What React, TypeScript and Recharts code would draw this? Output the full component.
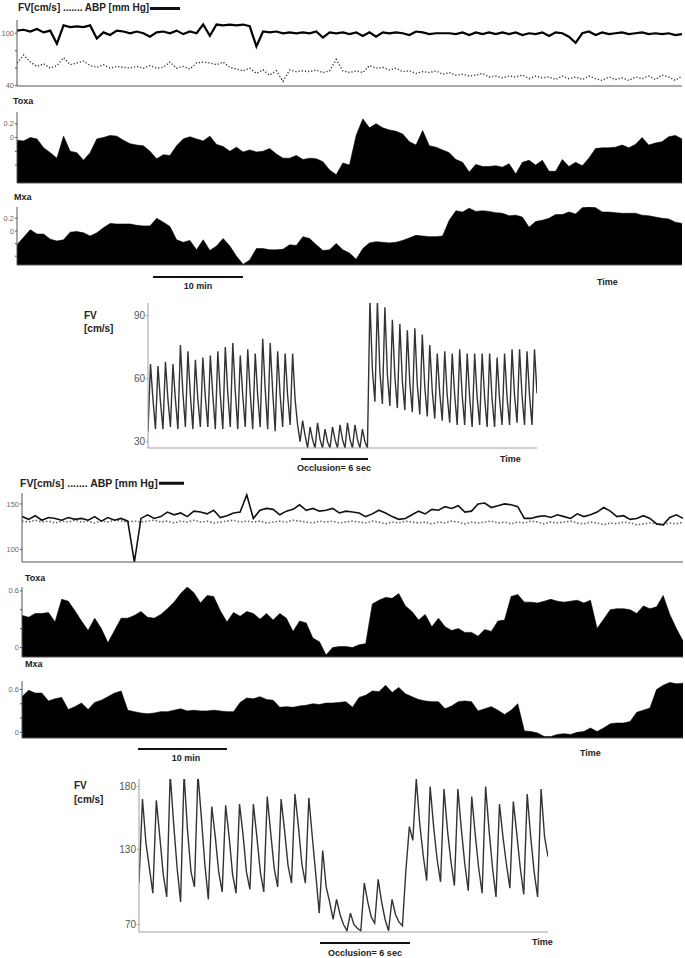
import React from 'react';
import { ComposedChart, Line, Area, XAxis, YAxis } from 'recharts';

// ---------------- Group 1 (upper) ----------------
const abp1 = [
  103, 104, 102, 105, 101, 103, 88, 109, 107, 108,
  107, 109, 94, 101, 98, 103, 102, 100, 102, 100,
  96, 101, 102, 100, 103, 99, 102, 100, 110, 97,
  110, 109, 110, 109, 110, 108, 85, 102, 101, 102,
  100, 101, 100, 101, 100, 102, 95, 101, 100, 101,
  99, 101, 97, 101, 96, 101, 100, 101, 100, 98,
  102, 101, 99, 100, 100, 100, 99, 101, 98, 101,
  99, 101, 99, 101, 99, 101, 98, 100, 99, 101,
  97, 101, 100, 96, 89, 100, 102, 98, 101, 99,
  100, 101, 99, 100, 101, 99, 100, 99, 100, 98,
  99,
];
const fvTrend1 = [
  66, 75, 67, 62, 65, 60, 63, 72, 64, 66,
  68, 63, 61, 64, 60, 62, 61, 60, 62, 60,
  63, 60, 61, 67, 60, 62, 59, 66, 67, 66,
  64, 67, 61, 59, 57, 60, 54, 58, 52, 57,
  45, 58, 56, 57, 56, 58, 55, 57, 70, 57,
  55, 57, 55, 63, 60, 61, 58, 60, 56, 57,
  54, 56, 55, 57, 53, 55, 52, 53, 51, 52,
  54, 50, 51, 49, 51, 50, 52, 48, 51, 49,
  50, 47, 51, 48, 50, 47, 51, 48, 46, 50,
  47, 49, 46, 50, 48, 51, 47, 52, 50, 46,
  51,
];
const toxa1 = [
  -0.04, -0.05, 0.0, -0.02, -0.15, -0.22, -0.3, 0.02, -0.2, -0.22,
  -0.33, -0.22, -0.02, 0.0, 0.03, 0.02, -0.04, -0.09, -0.11, -0.12,
  -0.2, -0.31, -0.25, -0.26, -0.12, -0.02, 0.01, -0.02, -0.05, 0.02,
  -0.1, -0.13, -0.2, -0.14, -0.21, -0.18, -0.21, -0.2, -0.16, -0.24,
  -0.3, -0.3, -0.26, -0.32, -0.3, -0.31, -0.35, -0.47, -0.54, -0.37,
  -0.4, 0.03, 0.27, 0.14, 0.2, 0.14, 0.11, 0.09, 0.05, -0.06,
  -0.11, 0.1, -0.12, -0.14, -0.18, -0.22, -0.32, -0.36, -0.5, -0.39,
  -0.42, -0.42, -0.41, -0.43, -0.38, -0.53, -0.36, -0.33, -0.4, -0.33,
  -0.49, -0.49, -0.32, -0.42, -0.36, -0.41, -0.3, -0.16, -0.15, -0.15,
  -0.14, -0.11, -0.15, -0.1, 0.0, -0.11, -0.08, -0.06, 0.01, 0.03,
  -0.02,
];
const mxa1 = [
  -0.22, -0.1, 0.02, -0.05, -0.05, -0.13, -0.16, -0.14, -0.02, -0.01,
  -0.03, -0.08, -0.03, 0.05, 0.12, 0.11, 0.11, 0.11, 0.09, 0.08,
  0.08, 0.2, 0.14, 0.07, -0.14, -0.18, -0.15, -0.3, -0.14, -0.31,
  -0.24, -0.12, -0.24, -0.4, -0.53, -0.46, -0.28, -0.28, -0.3, -0.3,
  -0.29, -0.22, -0.23, -0.09, -0.12, -0.22, -0.31, -0.3, -0.2, -0.3,
  -0.35, -0.45, -0.28, -0.19, -0.17, -0.18, -0.19, -0.18, -0.15, -0.11,
  -0.07, -0.08, -0.09, -0.09, -0.08, 0.17, 0.32, 0.3, 0.36, 0.31,
  0.32, 0.31, 0.29, 0.28, 0.24, 0.25, 0.22, 0.06, 0.15, 0.17,
  0.2, 0.26, 0.26, 0.3, 0.27, 0.37, 0.38, 0.37, 0.3, 0.3,
  0.29, 0.28, 0.28, 0.28, 0.25, 0.24, 0.22, 0.2, 0.19, 0.14,
  0.12,
];
const mxa1Ticks = [5.4, 19.9, 34.2, 48.6, 63.2, 77.4, 91.9];

// FV waveform around a 6 s occlusion (upper example), cm/s
const fvWave1 = [
  35, 67, 50, 36, 66, 49, 36, 68, 50, 37, 67, 50, 36, 76, 53,
  37, 73, 52, 36, 69, 50, 37, 70, 51, 37, 71, 52, 36, 73, 52,
  36, 75, 53, 37, 77, 54, 36, 71, 52, 37, 74, 53, 36, 72, 52,
  37, 79, 55, 36, 77, 54, 35, 73, 52, 37, 72, 52, 38, 72, 50,
  38,
  30, 40, 33, 27, 37, 31, 27, 39, 31, 27, 36, 30, 27, 37, 31,
  27, 38, 31, 27, 39, 31, 27, 38, 31, 27, 36, 30,
  27,
  97, 64, 49, 97, 63, 48, 94, 62, 47, 88, 61, 46, 86, 59, 45,
  83, 58, 44, 84, 57, 43, 81, 56, 42, 76, 54, 41, 72, 53, 40,
  73, 52, 39, 72, 52, 38, 74, 52, 38, 72, 51, 37, 72, 51, 38,
  72, 51, 37, 72, 50, 37, 70, 50, 38, 72, 51, 38, 74, 52, 39,
  74, 52, 38, 73, 52, 38, 74, 53,
];
const fvWave1Ticks = [8.4, 26.8, 44.9, 63.3, 81.4, 99.5, 117.9, 135.9, 154];

// ---------------- Group 2 (lower) ----------------
const abp2 = [
  136, 133, 137, 132, 135, 134, 132, 135, 133, 134,
  132, 136, 131, 135, 132, 134, 131, 86, 134, 138,
  134, 136, 141, 138, 140, 136, 142, 141, 139, 143,
  135, 137, 140, 141, 160, 134, 143, 145, 144, 138,
  142, 144, 149, 143, 145, 142, 143, 145, 140, 142,
  141, 140, 136, 139, 143, 140, 136, 133, 134, 138,
  142, 139, 144, 143, 147, 145, 148, 141, 142, 150,
  151, 146, 148, 150, 149, 147, 134, 134, 136, 137,
  135, 138, 136, 134, 139, 136, 138, 141, 146, 142,
  136, 137, 133, 134, 137, 134, 128, 127, 135, 138,
  134,
];
const fvTrend2 = [
  131, 130, 132, 130, 131, 129, 131, 130, 132, 130,
  131, 129, 131, 130, 132, 131, 130, 131, 130, 131,
  132, 130, 131, 129, 131, 130, 132, 130, 131, 129,
  130, 131, 132, 130, 131, 130, 131, 129, 130, 131,
  130, 132, 131, 130, 129, 131, 130, 131, 129, 130,
  131, 130, 129, 131, 130, 128, 130, 129, 131, 130,
  129, 130, 128, 130, 129, 131, 130, 128, 130, 129,
  130, 131, 129, 130, 128, 130, 129, 131, 130, 128,
  130, 129, 130, 131, 129, 128, 130, 129, 127, 129,
  128, 130, 129, 127, 128, 129, 128, 127, 129, 128,
  130,
];
const toxa2 = [
  0.34, 0.32, 0.36, 0.36, 0.37, 0.27, 0.51, 0.49, 0.39, 0.28,
  0.18, 0.31, 0.2, 0.05, 0.18, 0.31, 0.31, 0.34, 0.38, 0.32,
  0.31, 0.35, 0.41, 0.48, 0.57, 0.64, 0.58, 0.47, 0.55, 0.54,
  0.39, 0.27, 0.37, 0.33, 0.38, 0.36, 0.3, 0.36, 0.29, 0.36,
  0.31, 0.17, 0.28, 0.26, 0.1, 0.06, -0.08, 0.0, 0.01, 0.01,
  0.0, 0.03, 0.04, 0.46, 0.5, 0.53, 0.52, 0.57, 0.44, 0.38,
  0.29, 0.35, 0.22, 0.31, 0.22, 0.18, 0.2, 0.16, 0.16, 0.12,
  0.19, 0.17, 0.28, 0.29, 0.54, 0.56, 0.48, 0.48, 0.47, 0.49,
  0.51, 0.49, 0.48, 0.49, 0.5, 0.47, 0.5, 0.2, 0.3, 0.4,
  0.41, 0.41, 0.4, 0.36, 0.44, 0.41, 0.43, 0.55, 0.35, 0.2,
  0.07,
];
const mxa2 = [
  0.5, 0.59, 0.55, 0.55, 0.44, 0.47, 0.49, 0.32, 0.36, 0.41,
  0.32, 0.42, 0.45, 0.5, 0.55, 0.58, 0.31, 0.29, 0.27, 0.26,
  0.27, 0.29, 0.29, 0.31, 0.33, 0.3, 0.31, 0.3, 0.3, 0.31,
  0.3, 0.29, 0.29, 0.42, 0.48, 0.47, 0.5, 0.46, 0.45, 0.35,
  0.36, 0.35, 0.37, 0.38, 0.4, 0.39, 0.41, 0.41, 0.42, 0.43,
  0.35, 0.49, 0.52, 0.58, 0.57, 0.66, 0.56, 0.63, 0.54, 0.5,
  0.46, 0.44, 0.43, 0.43, 0.33, 0.37, 0.43, 0.44, 0.43, 0.3,
  0.33, 0.36, 0.31, 0.25, 0.31, 0.4, 0.02, 0.01, -0.01, -0.06,
  -0.06, -0.03, -0.02, -0.03, 0.0, 0.01, 0.06, 0.01, 0.06, 0.12,
  0.13, 0.13, 0.15, 0.28, 0.31, 0.34, 0.6, 0.66, 0.7, 0.68,
  0.69,
];
const mxa2Ticks = [3.7, 17.3, 30.7, 44.4, 58.1, 71.6, 85.3, 98.5];

// FV waveform around a 6 s occlusion (lower example), cm/s
const fvWave2 = [
  103, 170, 135, 115, 95, 169, 140, 110, 92, 190, 150, 115,
  88, 190, 145, 112, 100, 190, 155, 118, 90, 164, 140, 112,
  96, 165, 140, 110, 95, 166, 142, 112, 98, 166, 140, 112,
  96, 172, 143, 115, 100, 170, 145, 117, 103, 174, 148, 118,
  103, 171, 140, 110,
  79, 129, 100, 88, 74, 90, 78, 70, 65, 79, 70, 67,
  65, 103, 88, 76, 71, 106, 88, 74, 65, 90, 78, 72,
  69, 113, 148, 137,
  186, 150, 125, 105, 180, 148, 122, 104, 178, 145, 120, 101,
  178, 146, 118, 97, 172, 142, 115, 95, 180, 145, 115, 92,
  166, 140, 118, 99, 168, 142, 115, 94, 174, 140, 112, 92,
  178, 140, 124,
];
const fvWave2Ticks = [3.8, 19.4, 35, 50.6, 66.2, 81.9, 97.7, 113.6];

// ---------------- helpers ----------------
const FONT = '"Liberation Sans", Arial, Helvetica, sans-serif';

const rows = (a: number[], b?: number[]) =>
  a.map((v, i) => ({ i, a: v, b: b ? b[i] : undefined }));

type PanelProps = {
  left: number;
  top: number;
  w: number;
  h: number;
  axisW: number;
  data: any[];
  xMax: number;
  yDomain: [number, number];
  yTicks: number[];
  yShow: number[];
  xTicks?: number[];
  frame: string;
  tickFont?: number;
  tickColor?: string;
  children: React.ReactNode;
};

function Panel(p: PanelProps) {
  const mt = 7;
  const mb = 6;
  const fmt = (v: number) => (p.yShow.includes(v) ? String(v) : '');
  const hasX = !!(p.xTicks && p.xTicks.length);
  return (
    <div style={{ position: 'absolute', left: p.left - p.axisW, top: p.top - mt }}>
      <ComposedChart
        width={p.axisW + p.w + 2}
        height={mt + p.h + mb}
        data={p.data}
        margin={{ top: mt, right: 2, bottom: 0, left: 0 }}
      >
        <XAxis
          dataKey="i"
          type="number"
          domain={[0, p.xMax]}
          ticks={hasX ? p.xTicks : undefined}
          interval={0}
          height={mb}
          tickSize={3}
          tick={false}
          axisLine={{ stroke: p.frame }}
          tickLine={hasX ? { stroke: p.frame } : false}
          allowDataOverflow
        />
        <XAxis
          xAxisId="top"
          orientation="top"
          dataKey="i"
          type="number"
          domain={[0, p.xMax]}
          height={0}
          tick={false}
          tickLine={false}
          axisLine={{ stroke: p.frame }}
          allowDataOverflow
        />
        <YAxis
          type="number"
          domain={p.yDomain}
          ticks={p.yTicks}
          interval={0}
          width={p.axisW}
          tickSize={2}
          tickMargin={1}
          tickFormatter={fmt}
          tick={{ fontSize: p.tickFont ?? 7.5, fill: p.tickColor ?? '#6a6a6a', fontFamily: FONT }}
          axisLine={{ stroke: p.frame }}
          tickLine={{ stroke: p.frame }}
          allowDataOverflow
        />
        <YAxis
          yAxisId="right"
          orientation="right"
          type="number"
          domain={p.yDomain}
          width={0}
          tick={false}
          tickLine={false}
          axisLine={{ stroke: p.frame }}
          allowDataOverflow
        />
        {p.children}
      </ComposedChart>
    </div>
  );
}

function T(props: {
  x: number;
  y: number;
  text: string;
  size?: number;
  bold?: boolean;
  center?: boolean;
  color?: string;
}) {
  return (
    <div
      style={{
        position: 'absolute',
        left: props.x,
        top: props.y,
        transform: `translate(${props.center ? '-50%' : '0'}, -50%)`,
        fontFamily: FONT,
        fontSize: props.size ?? 9,
        fontWeight: props.bold === false ? 400 : 700,
        color: props.color ?? '#222',
        whiteSpace: 'nowrap',
        lineHeight: 1,
      }}
    >
      {props.text}
    </div>
  );
}

function Bar(props: { x1: number; x2: number; y: number; t?: number }) {
  const t = props.t ?? 2;
  return (
    <div
      style={{
        position: 'absolute',
        left: props.x1,
        top: props.y - t / 2,
        width: props.x2 - props.x1,
        height: t,
        background: '#111',
      }}
    />
  );
}

function Legend(props: { x: number; y: number; size: number; bar: number }) {
  return (
    <div
      style={{
        position: 'absolute',
        left: props.x,
        top: props.y,
        transform: 'translateY(-50%)',
        display: 'flex',
        alignItems: 'center',
        fontFamily: FONT,
        fontSize: props.size,
        fontWeight: 700,
        color: '#222',
        whiteSpace: 'nowrap',
        lineHeight: 1,
      }}
    >
      <span>FV[cm/s] ....... ABP [mm Hg]</span>
      <span style={{ display: 'inline-block', width: props.bar, height: 3, background: '#111', marginLeft: 1 }} />
    </div>
  );
}

const areaProps = {
  type: 'linear' as const,
  fill: '#000',
  fillOpacity: 1,
  stroke: '#000',
  strokeWidth: 0.6,
  baseValue: 'dataMin' as const,
  isAnimationActive: false,
  dot: false,
  activeDot: false,
};

export default function App() {
  const frame1 = '#555';
  const frameFV = '#a0a0a0';
  return (
    <div style={{ position: 'absolute', left: 0, top: 0, width: 685, height: 958, background: '#fff' }}>
      {/* ===== Group 1 ===== */}
      <Legend x={18} y={8} size={10} bar={30} />
      <Panel left={17} top={20} w={665} h={66} axisW={17} data={rows(abp1, fvTrend1)} xMax={100}
        yDomain={[39.6, 115.2]} yTicks={[40, 60, 80, 100]} yShow={[40, 100]} frame={frame1}>
        <Line dataKey="b" type="linear" stroke="#333" strokeWidth={1.4} strokeDasharray="1.2 2" dot={false} activeDot={false} isAnimationActive={false} />
        <Line dataKey="a" type="linear" stroke="#000" strokeWidth={2.2} dot={false} activeDot={false} isAnimationActive={false} />
      </Panel>

      <T x={13} y={101} text="Toxa" />
      <Panel left={17} top={112} w={665} h={71} axisW={17} data={rows(toxa1)} xMax={100}
        yDomain={[-0.66, 0.37]} yTicks={[-0.4, -0.2, 0, 0.2]} yShow={[0, 0.2]} frame={frame1}>
        <Area dataKey="a" {...areaProps} />
      </Panel>

      <T x={14} y={197} text="Mxa" />
      <Panel left={17} top={207} w={665} h={58} axisW={17} data={rows(mxa1)} xMax={100}
        yDomain={[-0.54, 0.38]} yTicks={[-0.4, -0.2, 0, 0.2]} yShow={[0, 0.2]} xTicks={mxa1Ticks} frame={frame1}>
        <Area dataKey="a" {...areaProps} />
      </Panel>
      <Bar x1={153} x2={243} y={277} />
      <T x={198} y={286} text="10 min" center />
      <T x={597} y={282} text="Time" />

      <T x={84} y={316} text="FV" size={10} />
      <T x={84} y={329} text="[cm/s]" size={10} />
      <Panel left={148} top={303} w={389} h={145} axisW={24} data={rows(fvWave1)} xMax={156}
        yDomain={[27, 96]} yTicks={[30, 60, 90]} yShow={[30, 60, 90]} xTicks={fvWave1Ticks} frame={frameFV} tickFont={10} tickColor="#555">
        <Line dataKey="a" type="linear" stroke="#333" strokeWidth={1.4} dot={false} activeDot={false} isAnimationActive={false} />
      </Panel>
      <Bar x1={301} x2={368} y={459} />
      <T x={334} y={468} text="Occlusion= 6 sec" center />
      <T x={500} y={459} text="Time" />

      {/* ===== Group 2 ===== */}
      <Legend x={20} y={483} size={10.5} bar={25} />
      <Panel left={22} top={493} w={661} h={69} axisW={22} data={rows(abp2, fvTrend2)} xMax={100}
        yDomain={[86, 162]} yTicks={[100, 150]} yShow={[100, 150]} frame={frame1}>
        <Line dataKey="b" type="linear" stroke="#666" strokeWidth={1.6} strokeDasharray="1.5 2" dot={false} activeDot={false} isAnimationActive={false} />
        <Line dataKey="a" type="linear" stroke="#111" strokeWidth={1.6} dot={false} activeDot={false} isAnimationActive={false} />
      </Panel>

      <T x={25} y={578} text="Toxa" />
      <Panel left={22} top={587} w={661} h={70} axisW={22} data={rows(toxa2)} xMax={100}
        yDomain={[-0.1, 0.64]} yTicks={[0, 0.2, 0.4, 0.6]} yShow={[0, 0.6]} frame={frame1}>
        <Area dataKey="a" {...areaProps} />
      </Panel>

      <T x={25} y={664} text="Mxa" />
      <Panel left={22} top={681} w={661} h={57} axisW={22} data={rows(mxa2)} xMax={100}
        yDomain={[-0.08, 0.72]} yTicks={[0, 0.2, 0.4, 0.6]} yShow={[0, 0.6]} xTicks={mxa2Ticks} frame={frame1}>
        <Area dataKey="a" {...areaProps} />
      </Panel>
      <Bar x1={138} x2={227} y={749} />
      <T x={186} y={758} text="10 min" center />
      <T x={580} y={753} text="Time" />

      <T x={74} y={786} text="FV" size={10} />
      <T x={74} y={800} text="[cm/s]" size={10} />
      <Panel left={139} top={779} w={409} h={153} axisW={28} data={rows(fvWave2)} xMax={118}
        yDomain={[64, 186]} yTicks={[70, 130, 180]} yShow={[70, 130, 180]} xTicks={fvWave2Ticks} frame={frameFV} tickFont={10} tickColor="#555">
        <Line dataKey="a" type="linear" stroke="#333" strokeWidth={1.4} dot={false} activeDot={false} isAnimationActive={false} />
      </Panel>
      <Bar x1={320} x2={410} y={943} />
      <T x={365} y={953} text="Occlusion= 6 sec" center />
      <T x={532} y={942} text="Time" />
    </div>
  );
}
